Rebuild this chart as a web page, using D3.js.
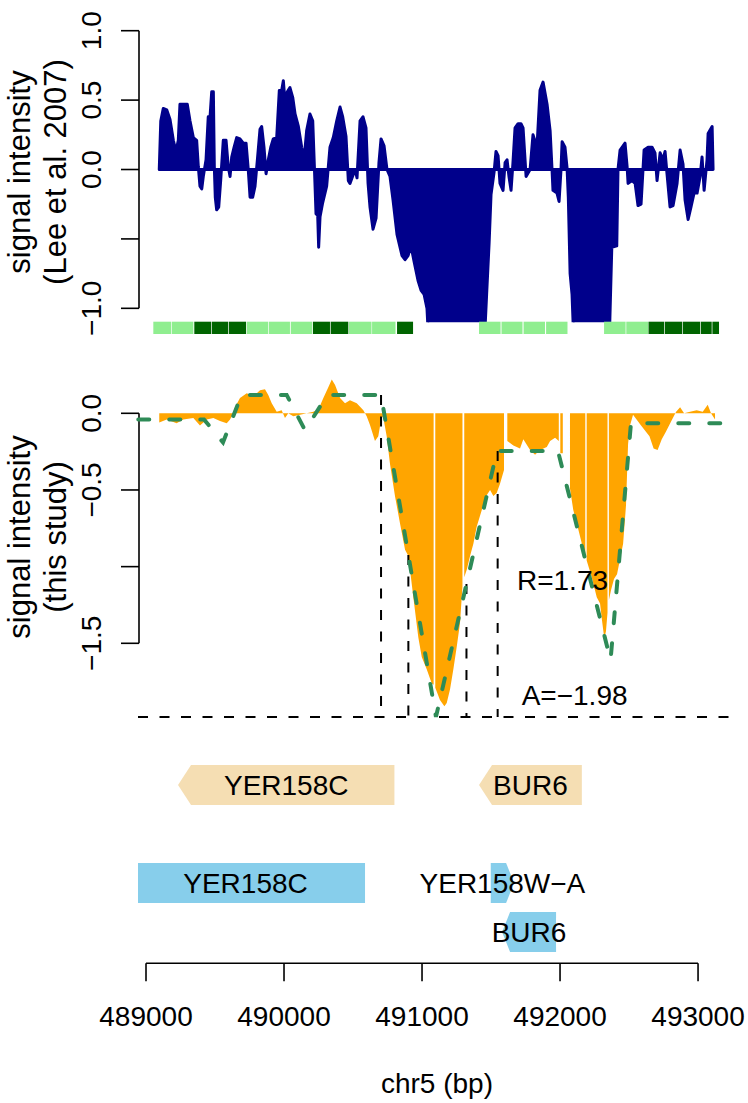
<!DOCTYPE html>
<html>
<head>
<meta charset="utf-8">
<script src="https://cdn.jsdelivr.net/npm/d3@7/dist/d3.min.js"></script>
<style>
  body { margin: 0; background: #fff; }
  text { font-family: "Liberation Sans", Arial, Helvetica, sans-serif; fill: #000; }
</style>
</head>
<body>
<svg id="chart"></svg>
<script>
// Lee et al. 2007 track (bp, signal)
var leePos = [489096, 489107, 489125, 489150, 489174, 489198, 489217, 489234, 489246, 489283, 489299, 489319, 489343, 489367, 489379, 489391, 489404, 489415, 489435, 489451, 489464, 489476, 489488, 489495, 489502, 489512, 489527, 489541, 489560, 489580, 489596, 489609, 489621, 489638, 489657, 489681, 489705, 489725, 489741, 489754, 489773, 489790, 489807, 489826, 489838, 489855, 489870, 489886, 489904, 489922, 489947, 489966, 489983, 489995, 490009, 490024, 490043, 490063, 490080, 490104, 490128, 490145, 490164, 490188, 490208, 490220, 490232, 490244, 490251, 490261, 490280, 490309, 490333, 490357, 490382, 490406, 490425, 490449, 490466, 490478, 490515, 490529, 490551, 490572, 490594, 490609, 490623, 490645, 490667, 490688, 490703, 490725, 490746, 490768, 490790, 490819, 490855, 490877, 490899, 490920, 490942, 490971, 490993, 491015, 491036, 491051, 491094, 491203, 491348, 491449, 491468, 491486, 491500, 491522, 491536, 491551, 491565, 491587, 491602, 491616, 491630, 491645, 491659, 491674, 491696, 491717, 491732, 491754, 491783, 491804, 491833, 491855, 491877, 491906, 491928, 491942, 491949, 491978, 491993, 492007, 492015, 492036, 492051, 492060, 492073, 492087, 492102, 492217, 492355, 492375, 492411, 492420, 492435, 492457, 492471, 492486, 492493, 492522, 492544, 492565, 492587, 492609, 492638, 492667, 492688, 492703, 492725, 492746, 492761, 492775, 492797, 492819, 492848, 492870, 492891, 492906, 492928, 492949, 492971, 492993, 493015, 493029, 493044, 493065, 493073, 493102, 493109];
var leeVal = [0, 0.35, 0.44, 0.43, 0.36, 0.21, 0.13, 0.21, 0.47, 0.47, 0.47, 0.35, 0.23, 0.21, 0.02, -0.12, -0.14, -0.05, 0.07, 0.38, 0.38, 0.56, 0.56, 0.02, -0.2, -0.29, -0.27, -0.08, 0.21, 0.21, 0.02, -0.05, 0.09, 0.16, 0.23, 0.22, 0.19, 0.19, 0, -0.2, -0.2, -0.12, 0.07, 0.29, 0.31, 0.16, -0.03, 0.07, 0.16, 0.22, 0.23, 0.57, 0.57, 0.64, 0.47, 0.56, 0.59, 0.52, 0.4, 0.31, 0.16, 0.07, 0.28, 0.4, 0.35, 0.02, -0.32, -0.33, -0.56, -0.34, -0.24, -0.12, 0.16, 0.23, 0.35, 0.45, 0.38, 0.24, -0.08, -0.1, 0, -0.06, 0.35, 0.38, 0.3, -0.1, -0.27, -0.43, -0.35, 0.05, 0.22, 0.17, 0, -0.05, -0.22, -0.47, -0.62, -0.65, -0.62, -0.55, -0.66, -0.8, -0.87, -0.9, -1.0, -1.3, -1.4, -1.4, -1.4, -1.3, -0.9, -0.53, -0.18, -0.02, 0.13, 0.1, -0.1, -0.15, 0.05, 0.07, -0.05, -0.15, 0.05, 0.3, 0.33, 0.33, 0.3, -0.05, 0, 0.25, 0.16, 0.57, 0.63, 0.47, 0.28, 0, -0.15, -0.17, -0.23, 0, 0.2, 0.16, 0.01, -0.2, -0.75, -0.9, -1.3, -1.4, -1.3, -0.56, -0.55, 0, 0.14, 0.17, 0.19, 0.02, -0.1, -0.08, -0.1, -0.26, -0.25, 0.14, 0.16, 0.16, 0.12, -0.08, 0.12, 0.07, 0.13, -0.03, -0.27, -0.26, -0.1, 0.14, 0.04, -0.22, -0.36, -0.27, -0.17, -0.17, -0.05, 0.09, -0.15, 0.07, 0.26, 0.31, 0];

// this study track (bp, signal); null = no probe
var studyPos = [489096, 489150, 489222, 489270, 489343, 489391, 489440, 489488, 489536, 489585, 489609, 489633, 489645, 489681, 489730, 489778, 489826, 489862, 489886, 489911, 489947, 489983, 490007, 490031, 490067, 490116, 490164, 490212, 490249, 490285, 490321, 490346, 490370, 490406, 490442, 490478, 490527, 490575, 490599, 490623, 490659, 490683, 490708, 490720, 490744, 490768, 490804, 490841, 490877, 490901, 490937, 490973, 490998, 491034, 491070, 491084, 491090, 491096, 491130, 491162, 491179, 491203, 491227, 491252, 491275, 491293, 491299, 491306, 491324, 491348, 491372, 491396, 491433, 491457, 491493, 491517, 491541, 491565, 491594, 491606, 491618, 491662, 491710, 491734, 491783, 491819, 491855, 491904, 491928, 491964, 491991, 491996, 492002, 492020, 492045, 492072, 492096, 492133, 492169, 492183, 492188, 492193, 492230, 492266, 492290, 492304, 492321, 492333, 492344, 492349, 492354, 492370, 492391, 492413, 492435, 492457, 492478, 492493, 492507, 492529, 492587, 492648, 492678, 492707, 492737, 492767, 492812, 492841, 492870, 492899, 492942, 492990, 493034, 493070, 493094, 493123];
var studyVal = [-0.06, -0.04, -0.065, -0.04, -0.03, -0.08, -0.04, -0.03, -0.05, -0.065, -0.04, 0, 0.04, 0.1, 0.13, 0.11, 0.15, 0.157, 0.12, 0.065, 0.01, 0.02, -0.03, 0, -0.02, -0.01, 0, 0.01, 0.025, 0.1, 0.17, 0.22, 0.185, 0.1, 0.065, 0.085, 0.065, 0.02, -0.02, -0.076, -0.18, -0.15, -0.02, -0.03, -0.15, -0.33, -0.54, -0.72, -0.89, -0.93, -1.2, -1.46, -1.59, -1.67, -1.76, -1.77, null, -1.79, -1.87, -1.91, -1.89, -1.8, -1.67, -1.52, -1.37, -1.13, null, -1.07, -1.02, -0.93, -0.85, -0.74, -0.63, -0.55, -0.5, -0.54, -0.52, -0.46, -0.37, null, -0.18, -0.21, -0.23, -0.17, -0.24, -0.27, -0.24, -0.22, -0.18, -0.16, -0.18, null, -0.26, -0.26, null, -0.49, -0.63, -0.76, -0.89, -0.92, null, -0.96, -1.07, -1.2, -1.24, -1.35, -1.47, -1.42, -1.3, null, -1.22, -1.15, -1.08, -1.05, -0.95, -0.85, -0.6, -0.2, -0.08, -0.01, -0.08, -0.15, -0.23, -0.24, -0.17, -0.12, -0.04, 0.01, 0.04, 0, 0.01, 0.02, 0.01, 0.055, 0, -0.04];

// fitted model (dashed green)
var modelPos = [488944, 489420, 489558, 489692, 490019, 490152, 490315, 490703, 491101, 491543, 491985, 492366, 492514, 493268];
var modelVal = [-0.04, -0.04, -0.19, 0.12, 0.12, -0.11, 0.12, 0.12, -1.98, -0.246, -0.246, -1.61, -0.065, -0.065];

var markPos = [490703, 490901, 491322, 491548];
var aValue = -1.98;
var rValue = 1.73;

// nucleosome tiles under the top panel
var tileStart = [489053, 489186, 489350, 489476, 489601, 489730, 489891, 490049, 490210, 490338, 490471, 490638, 490819, 491413, 491576, 491736, 491899, 492319, 492480, 492641, 492759, 492891, 493020, 493104];
var tileEnd = [489181, 489343, 489471, 489596, 489725, 489886, 490043, 490205, 490333, 490466, 490634, 490808, 490935, 491569, 491728, 491891, 492054, 492475, 492638, 492754, 492886, 493015, 493099, 493152];
var tileType = ["light", "light", "dark", "dark", "dark", "light", "light", "light", "dark", "dark", "light", "light", "dark", "light", "light", "light", "light", "light", "light", "dark", "dark", "dark", "dark", "dark"];

// gene annotations
var geneName = ["YER158C", "BUR6", "YER158C", "YER158W\u2212A", "BUR6"];
var geneStart = [489232, 491413, 488855, 491498, 491580];
var geneEnd = [490800, 492158, 490587, 491667, 491971];
var geneStrand = ["-", "-", "-", "+", "-"];
var geneRow = [0, 0, 1, 1, 2];

var topTicks = [1.0, 0.5, 0.0, -0.5, -1.0];
var topTickLabels = ["1.0", "0.5", "0.0", "", "\u22121.0"];
var midTicks = [0.0, -0.5, -1.0, -1.5];
var midTickLabels = ["0.0", "\u22120.5", "", "\u22121.5"];
var xTicks = [489000, 490000, 491000, 492000, 493000];

var W = 748, H = 1103;
var svg = d3.select("#chart").attr("width", W).attr("height", H);

var x = d3.scaleLinear().domain([488942, 493275]).range([138, 736]);
var yTop = d3.scaleLinear().domain([1.0, -1.1]).range([30.7, 322.2]);
var yMid = d3.scaleLinear().domain([0, -1.5]).range([413.3, 643.3]);

var fs = 28;

svg.append("clipPath").attr("id", "clipTop").append("rect")
  .attr("x", x.range()[0]).attr("y", yTop.range()[0])
  .attr("width", x.range()[1] - x.range()[0]).attr("height", yTop.range()[1] - yTop.range()[0]);
svg.append("clipPath").attr("id", "clipX").append("rect")
  .attr("x", x.range()[0]).attr("y", 0)
  .attr("width", x.range()[1] - x.range()[0]).attr("height", H);

// ---- top panel ----
var lee = leePos.map((p, i) => [p, leeVal[i]]);
svg.append("path").datum(lee)
  .attr("clip-path", "url(#clipTop)")
  .attr("d", d3.area().x(d => x(d[0])).y0(yTop(0)).y1(d => yTop(d[1])))
  .attr("fill", "#00008B").attr("stroke", "#00008B")
  .attr("stroke-width", 3).attr("stroke-linejoin", "round");

svg.append("g").selectAll("rect").data(tileStart).join("rect")
  .attr("x", (d, i) => x(d)).attr("y", yTop(-1.1) - 0.5)
  .attr("width", (d, i) => x(tileEnd[i]) - x(d)).attr("height", 12.3)
  .attr("fill", (d, i) => tileType[i] == "dark" ? "#006400" : "#90EE90");

function yAxis(scale, ticks, labels) {
  var g = svg.append("g");
  var x0 = 139;
  g.append("line").attr("x1", x0).attr("x2", x0)
    .attr("y1", scale(d3.max(ticks))).attr("y2", scale(d3.min(ticks)))
    .attr("stroke", "#000").attr("stroke-width", 1.6);
  g.selectAll(".tk").data(ticks).join("line").attr("class", "tk")
    .attr("x1", x0 - 18).attr("x2", x0)
    .attr("y1", d => scale(d)).attr("y2", d => scale(d))
    .attr("stroke", "#000").attr("stroke-width", 1.6);
  g.selectAll(".tl").data(ticks).join("text").attr("class", "tl")
    .attr("transform", d => "translate(101," + scale(d) + ") rotate(-90)")
    .attr("text-anchor", "middle").style("font-size", fs + "px")
    .text((d, i) => labels[i]);
}
yAxis(yTop, topTicks, topTickLabels);
yAxis(yMid, midTicks, midTickLabels);

function yTitle(lines, cy) {
  var bx = [30, 66];
  lines.forEach(function (t, i) {
    svg.append("text")
      .attr("transform", "translate(" + bx[i] + "," + cy + ") rotate(-90)")
      .attr("text-anchor", "middle").style("font-size", "31px").text(t);
  });
}
yTitle(["signal intensity", "(Lee et al. 2007)"], 172);
yTitle(["signal intensity", "(this study)"], 537);

// ---- middle panel ----
var study = studyPos.map((p, i) => [p, studyVal[i]]);
svg.append("path").datum(study)
  .attr("d", d3.area().defined(d => d[1] !== null)
    .x(d => x(d[0])).y0(yMid(0)).y1(d => yMid(d[1])))
  .attr("fill", "#FFA500");

var model = modelPos.map((p, i) => [p, modelVal[i]]);
function modelAt(p) {
  var i = d3.bisectRight(modelPos, p);
  var a = model[i - 1], b = model[i];
  return a[1] + (b[1] - a[1]) * (p - a[0]) / (b[0] - a[0]);
}

svg.append("line")
  .attr("x1", x.range()[0]).attr("x2", x.range()[1])
  .attr("y1", yMid(aValue)).attr("y2", yMid(aValue))
  .attr("stroke", "#000").attr("stroke-width", 2).attr("stroke-dasharray", "10,11.5");

svg.append("g").selectAll("line").data(markPos).join("line")
  .attr("x1", d => x(d)).attr("x2", d => x(d))
  .attr("y1", d => yMid(modelAt(d))).attr("y2", yMid(aValue))
  .attr("stroke", "#000").attr("stroke-width", 2).attr("stroke-dasharray", "10,11.5");

svg.append("path").datum(model)
  .attr("d", d3.line().x(d => x(d[0])).y(d => yMid(d[1])))
  .attr("fill", "none").attr("stroke", "#2E8B57").attr("stroke-width", 4)
  .attr("stroke-linecap", "round").attr("stroke-dasharray", "11,20");

svg.append("text").attr("x", x(491688)).attr("y", yMid(-1.153))
  .style("font-size", fs + "px").text("R=" + rValue.toFixed(2));
svg.append("text").attr("x", x(491722)).attr("y", yMid(-1.90))
  .style("font-size", fs + "px").text("A=" + (aValue < 0 ? "\u2212" : "") + Math.abs(aValue).toFixed(2));

// ---- genes ----
var rowTop = [765, 863, 912];
var rowH = 40;
var rowFill = ["#F5DEB3", "#87CEEB", "#87CEEB"];
var headLen = [13, 8, 8];

var gg = svg.append("g").attr("clip-path", "url(#clipX)");
geneName.forEach(function (name, i) {
  var r = geneRow[i];
  var x1 = x(geneStart[i]), x2 = x(geneEnd[i]);
  var t = rowTop[r], b = t + rowH, m = t + rowH / 2, h = headLen[r];
  var pts = geneStrand[i] == "+"
    ? [[x1, t], [x2 - h, t], [x2, m], [x2 - h, b], [x1, b]]
    : [[x1 + h, t], [x2, t], [x2, b], [x1 + h, b], [x1, m]];
  gg.append("polygon").attr("points", pts.map(p => p.join(",")).join(" "))
    .attr("fill", rowFill[r]);
});
geneName.forEach(function (name, i) {
  var r = geneRow[i];
  svg.append("text")
    .attr("x", (x(geneStart[i]) + x(geneEnd[i])) / 2)
    .attr("y", rowTop[r] + 30)
    .attr("text-anchor", "middle").style("font-size", fs + "px").text(name);
});

// ---- x axis ----
var ax = svg.append("g");
var axY = 963.3;
ax.append("line").attr("x1", x(xTicks[0])).attr("x2", x(xTicks[xTicks.length - 1]))
  .attr("y1", axY).attr("y2", axY).attr("stroke", "#000").attr("stroke-width", 1.6);
ax.selectAll(".tk").data(xTicks).join("line").attr("class", "tk")
  .attr("x1", d => x(d)).attr("x2", d => x(d)).attr("y1", axY).attr("y2", axY + 18)
  .attr("stroke", "#000").attr("stroke-width", 1.6);
ax.selectAll(".tl").data(xTicks).join("text").attr("class", "tl")
  .attr("x", d => x(d)).attr("y", 1025.5).attr("text-anchor", "middle")
  .style("font-size", fs + "px").text(d => d3.format("d")(d));
svg.append("text").attr("x", 437).attr("y", 1093).attr("text-anchor", "middle")
  .style("font-size", fs + "px").text("chr5 (bp)");
</script>
</body>
</html>
